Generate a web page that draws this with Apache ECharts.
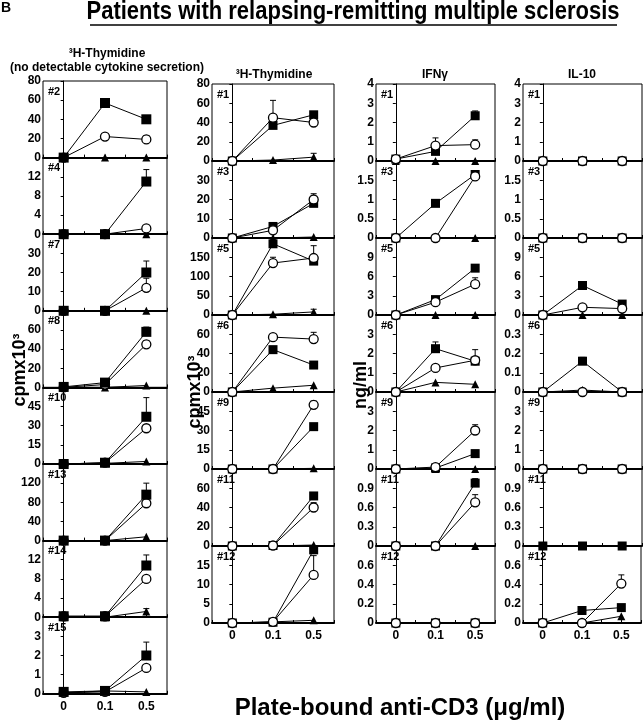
<!DOCTYPE html>
<html>
<head>
<meta charset="utf-8">
<script src="https://cdn.jsdelivr.net/npm/echarts@6/dist/echarts.min.js"></script>
<style>
html,body{margin:0;padding:0;background:#fff;}
#chart{width:644px;height:720px;}
</style>
</head>
<body>
<div id="chart"></div>
<script>
// ---------- DATA ----------
const categories = ['0', '0.1', '0.5'];

// Column 1: 3H-Thymidine (no detectable cytokine secretion)
const c1Ids = ['#2', '#4', '#7', '#8', '#10', '#13', '#14', '#15'];
const c1Max = [80, 16, 40, 80, 60, 160, 16, 4];
const c1Step = [20, 4, 10, 20, 15, 40, 4, 1];
const c1Square = [[0, 57, 40], [0, 0, 11], [0, 0, 20], [0.5, 5, 58], [0, 1, 37], [0, 0, 96], [0.2, 0.2, 10.8], [0.1, 0.15, 2]];
const c1Circle = [[0, 22, 19], [0, 0, 1.2], [0, 0, 12], [0, 3, 45], [0, 1, 28], [0, 0, 78], [0.2, 0.2, 8], [0.05, 0.1, 1.35]];
const c1Triangle = [[0, 0, 0], [0, 0, 0], [0, 0, 0], [0, 0, 2], [0, 0.5, 2], [0, 0, 8], [0, 0, 1.2], [0.05, 0.15, 0.1]];
const c1SquareErr = [[null, null, null], [null, null, 13.5], [null, null, 26], [null, null, 63], [null, null, 52], [null, null, 120], [null, null, 13], [null, null, 2.7]];
const c1CircleErr = [[null, null, 23], [null, null, null], [null, null, 17], [null, null, 49], [null, null, null], [null, null, null], [null, null, null], [null, null, null]];
const c1TriangleErr = [[null, null, null], [null, null, null], [null, null, null], [null, null, null], [null, null, null], [null, null, null], [null, null, 1.8], [null, null, null]];

// Column 2: 3H-Thymidine
const c2Ids = ['#1', '#3', '#5', '#6', '#9', '#11', '#12'];
const c2Max = [80, 40, 200, 80, 60, 80, 20];
const c2Step = [20, 10, 50, 20, 15, 20, 5];
const c2Square = [[0, 37, 48], [0, 6, 18], [0, 185, 140], [0, 44, 28], [0, 0, 33], [0, 0.5, 52], [0, 0.2, 19]];
const c2Circle = [[0, 45, 40], [0, 4, 20], [0, 135, 148], [0, 57, 55], [0, 0, 50], [0, 0.5, 40], [0, 0.3, 12.5]];
const c2Triangle = [[0, 1, 4], [0, 0, 0.5], [0, 2, 8], [0, 4, 7], [0, 0, 0.5], [0, 0, 1], [0, 0.3, 0.7]];
const c2SquareErr = [[null, null, null], [null, null, null], [null, null, null], [null, null, null], [null, null, null], [null, null, null], [null, null, null]];
const c2CircleErr = [[null, 63, null], [null, null, 23], [null, 150, 180], [null, null, 62], [null, null, 53], [null, null, 45], [null, null, 17.5]];
const c2TriangleErr = [[null, null, 8], [null, null, null], [null, null, 15], [null, null, null], [null, null, null], [null, null, null], [null, null, null]];

// Column 3: IFNγ
const c3Ids = ['#1', '#3', '#5', '#6', '#9', '#11', '#12'];
const c3Max = [4, 2, 12, 4, 4, 1.2, 0.8];
const c3Step = [1, 0.5, 3, 1, 1, 0.3, 0.2];
const c3Square = [[0.1, 0.5, 2.35], [0, 0.9, 1.65], [0, 2.4, 7.3], [0, 2.25, 1.6], [0, 0.05, 0.8], [0, 0, 0.98], [0, 0, 0]];
const c3Circle = [[0.1, 0.8, 0.85], [0, 0, 1.6], [0, 2, 4.8], [0, 1.25, 1.65], [0, 0.1, 2], [0, 0, 0.68], [0, 0, 0]];
const c3Triangle = [[0, 0, 0], [0, 0, 0], [0, 0, 0], [0, 0.5, 0.4], [0, 0, 0], [0, 0, 0], [0, 0, 0]];
const c3SquareErr = [[null, null, 2.6], [null, null, null], [null, null, null], [null, 2.6, null], [null, null, null], [null, null, 1.05], [null, null, null]];
const c3CircleErr = [[null, 1.2, 1.1], [null, null, null], [null, null, 5.8], [null, 1.4, 2.2], [null, null, 2.3], [null, null, 0.8], [null, null, null]];
const c3TriangleErr = [[null, null, null], [null, null, null], [null, null, null], [null, null, null], [null, null, null], [null, null, null], [null, null, null]];

// Column 4: IL-10
const c4Ids = ['#1', '#3', '#5', '#6', '#9', '#11', '#12'];
const c4Max = [4, 2, 12, 0.4, 4, 1.2, 0.8];
const c4Step = [1, 0.5, 3, 0.1, 1, 0.3, 0.2];
const c4Square = [[0, 0, 0], [0, 0, 0], [0, 4.6, 1.7], [0, 0.16, 0], [0, 0, 0], [0, 0, 0], [0, 0.13, 0.16]];
const c4Circle = [[0, 0, 0], [0, 0, 0], [0, 1.2, 1.0], [0, 0, 0], [0, 0, 0], [null, null, null], [0, 0, 0.41]];
const c4Triangle = [[0, 0, 0], [0, 0, 0], [0, 0, 0], [0, 0.01, 0], [0, 0, 0], [null, null, null], [0, 0, 0.07]];
const c4SquareErr = [[null, null, null], [null, null, null], [null, null, null], [null, 0.18, null], [null, null, null], [null, null, null], [null, null, null]];
const c4CircleErr = [[null, null, null], [null, null, null], [null, null, null], [null, null, null], [null, null, null], [null, null, null], [null, null, 0.5]];
const c4TriangleErr = [[null, null, null], [null, null, null], [null, null, null], [null, null, null], [null, null, null], [null, null, null], [null, null, null]];

// ---------- LAYOUT ----------
const FONT = "'Liberation Sans', Arial, sans-serif";
const columns = [
  {ids: c1Ids, max: c1Max, step: c1Step, sq: c1Square, ci: c1Circle, tr: c1Triangle, sqE: c1SquareErr, ciE: c1CircleErr, trE: c1TriangleErr,
   left: 43, width: 124, top: 81, h: 76.6, circleOnTop: false},
  {ids: c2Ids, max: c2Max, step: c2Step, sq: c2Square, ci: c2Circle, tr: c2Triangle, sqE: c2SquareErr, ciE: c2CircleErr, trE: c2TriangleErr,
   left: 212, width: 122, top: 84, h: 77, circleOnTop: true},
  {ids: c3Ids, max: c3Max, step: c3Step, sq: c3Square, ci: c3Circle, tr: c3Triangle, sqE: c3SquareErr, ciE: c3CircleErr, trE: c3TriangleErr,
   left: 376, width: 119, top: 84, h: 77, circleOnTop: true},
  {ids: c4Ids, max: c4Max, step: c4Step, sq: c4Square, ci: c4Circle, tr: c4Triangle, sqE: c4SquareErr, ciE: c4CircleErr, trE: c4TriangleErr,
   left: 523, width: 119, top: 84, h: 77, circleOnTop: true}
];

const grids = [], xAxes = [], yAxes = [], series = [], graphics = [];
let k = 0;

function errRender(params, api) {
  const p0 = api.coord([api.value(0), api.value(1)]);
  const p1 = api.coord([api.value(0), api.value(2)]);
  const st = {stroke: '#000', lineWidth: 1};
  return {type: 'group', children: [
    {type: 'line', shape: {x1: p0[0], y1: p0[1], x2: p1[0], y2: p1[1]}, style: st},
    {type: 'line', shape: {x1: p1[0] - 3, y1: p1[1], x2: p1[0] + 3, y2: p1[1]}, style: st}
  ]};
}

columns.forEach((col, ci) => {
  const n = col.ids.length;
  for (let i = 0; i < n; i++) {
    const top = col.top + i * col.h;
    const isLast = i === n - 1;
    grids.push({left: col.left, top: top, width: col.width, height: col.h,
      show: true, borderColor: '#000', borderWidth: 1, backgroundColor: 'transparent'});
    xAxes.push({type: 'value', gridIndex: k, min: -0.5, max: 2.5, interval: 0.5,
      axisLine: {show: true, onZero: false, lineStyle: {color: '#000', width: 2}},
      axisTick: {show: true, inside: true, length: 3, lineStyle: {color: '#000', width: 1}},
      splitLine: {show: false},
      axisLabel: {show: isLast, margin: 7, color: '#000', fontWeight: 'bold', fontSize: 12, fontFamily: FONT,
        formatter: v => (Math.abs(v - Math.round(v)) < 1e-6 && v >= 0 && v <= 2) ? categories[Math.round(v)] : ''}
    });
    yAxes.push({type: 'value', gridIndex: k, min: 0, max: col.max[i], interval: col.step[i],
      axisLine: {show: true, lineStyle: {color: '#000', width: 1}},
      axisTick: {show: true, inside: false, length: 3, lineStyle: {color: '#000'}},
      splitLine: {show: false},
      axisLabel: {show: true, margin: 2, color: '#000', fontWeight: 'bold', fontSize: 12, fontFamily: FONT,
        showMaxLabel: i === 0, showMinLabel: true, hideOverlap: false}
    });
    const mk = arr => arr.map((v, j) => [j, v]);
    const triZ = 3, sqZ = col.circleOnTop ? 4 : 6, ciZ = col.circleOnTop ? 6 : 4;
    series.push({type: 'line', xAxisIndex: k, yAxisIndex: k, data: mk(col.tr[i]), clip: false,
      symbol: 'triangle', symbolSize: 8, itemStyle: {color: '#000'}, lineStyle: {color: '#000', width: 1}, z: triZ, animation: false});
    series.push({type: 'line', xAxisIndex: k, yAxisIndex: k, data: mk(col.sq[i]), clip: false,
      symbol: 'rect', symbolSize: ci === 0 ? 10 : 9, itemStyle: {color: '#000'}, lineStyle: {color: '#000', width: 1}, z: sqZ, animation: false});
    series.push({type: 'line', xAxisIndex: k, yAxisIndex: k, data: mk(col.ci[i]), clip: false,
      symbol: 'circle', symbolSize: 9, itemStyle: {color: '#fff', borderColor: '#000', borderWidth: 1.3},
      lineStyle: {color: '#000', width: 1}, z: ciZ, animation: false});
    const errData = [];
    [[col.sq[i], col.sqE[i]], [col.ci[i], col.ciE[i]], [col.tr[i], col.trE[i]]].forEach(([vals, tops]) => {
      tops.forEach((t, j) => { if (t !== null && vals[j] !== null) errData.push([j, vals[j], t]); });
    });
    series.push({type: 'custom', xAxisIndex: k, yAxisIndex: k, data: errData, renderItem: errRender,
      clip: false, z: 2, animation: false, silent: true});
    graphics.push({type: 'text', left: col.left + 5, top: top + 5, z: 10,
      style: {text: col.ids[i], font: "bold 11px " + FONT, fill: '#000'}});
    k++;
  }
});

// ---------- TEXT ----------
const headerFont = "bold 12px " + FONT;
graphics.push(
  {type: 'text', left: 1, top: 1, style: {text: 'B', font: "bold 14px " + FONT, fill: '#000'}},
  {type: 'text', x: 353, y: 0, scaleX: 0.88, style: {text: 'Patients with relapsing-remitting multiple sclerosis', font: "bold 25px " + FONT, fill: '#000', align: 'center', verticalAlign: 'top'}},
  {type: 'line', shape: {x1: 90, y1: 25, x2: 617, y2: 25}, style: {stroke: '#000', lineWidth: 1.5}},
  {type: 'text', x: 107, y: 54, style: {text: '³H-Thymidine', font: headerFont, fill: '#000', align: 'center', verticalAlign: 'middle'}},
  {type: 'text', x: 107, y: 68, style: {text: '(no detectable cytokine secretion)', font: headerFont, fill: '#000', align: 'center', verticalAlign: 'middle'}},
  {type: 'text', x: 274, y: 75, style: {text: '³H-Thymidine', font: headerFont, fill: '#000', align: 'center', verticalAlign: 'middle'}},
  {type: 'text', x: 435, y: 75, style: {text: 'IFNγ', font: headerFont, fill: '#000', align: 'center', verticalAlign: 'middle'}},
  {type: 'text', x: 582, y: 75, style: {text: 'IL-10', font: headerFont, fill: '#000', align: 'center', verticalAlign: 'middle'}},
  {type: 'text', x: 20, y: 370, rotation: Math.PI / 2, style: {text: 'cpmx10³', font: "bold 18px " + FONT, fill: '#000', align: 'center', verticalAlign: 'middle'}},
  {type: 'text', x: 195, y: 392, rotation: Math.PI / 2, style: {text: 'cpmx10³', font: "bold 18px " + FONT, fill: '#000', align: 'center', verticalAlign: 'middle'}},
  {type: 'text', x: 361, y: 385, rotation: Math.PI / 2, style: {text: 'ng/ml', font: "bold 18px " + FONT, fill: '#000', align: 'center', verticalAlign: 'middle'}},
  {type: 'text', x: 400, y: 708, style: {text: 'Plate-bound anti-CD3 (μg/ml)', font: "bold 24px " + FONT, fill: '#000', align: 'center', verticalAlign: 'middle'}}
);

const chart = echarts.init(document.getElementById('chart'), null, {renderer: 'canvas'});
chart.setOption({
  animation: false,
  backgroundColor: '#fff',
  grid: grids, xAxis: xAxes, yAxis: yAxes, series: series, graphic: graphics
});
</script>
</body>
</html>
